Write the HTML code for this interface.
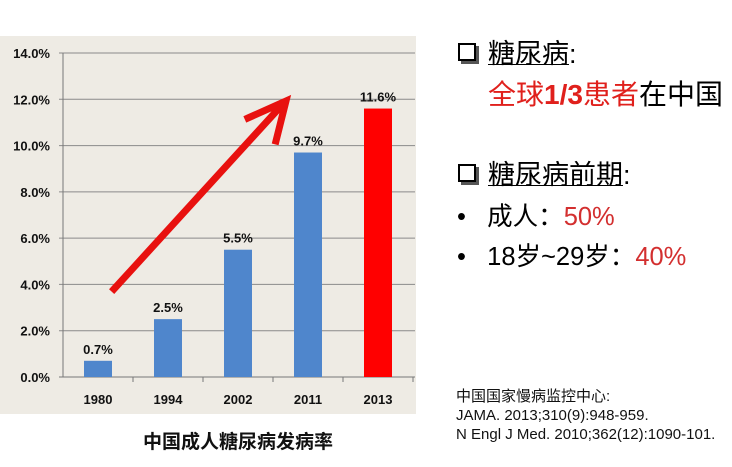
<!DOCTYPE html>
<html><head><meta charset="utf-8"><style>
body{margin:0;width:732px;height:467px;background:#fff;overflow:hidden;position:relative;font-family:"Liberation Sans","Noto Sans CJK SC",sans-serif}
.t{position:absolute;white-space:nowrap}
.box{display:inline-block;width:14px;height:14px;border:2.5px solid #000;box-shadow:3px 3px 0 #555;margin-right:12px;vertical-align:2px}
u{text-decoration:underline;text-decoration-thickness:1px}
</style></head><body>
<svg width="420" height="467" style="position:absolute;left:0;top:0" font-family="Liberation Sans, Noto Sans CJK SC, sans-serif">
<rect x="0" y="36" width="416" height="378" fill="#eeebe4"/>
<g id="g"></g>
<text x="238" y="448" text-anchor="middle" font-size="19" font-weight="bold" fill="#111">中国成人糖尿病发病率</text>
</svg>
<div class="t" style="left:458px;top:32px;font-size:27px"><span class="box"></span><u>糖尿病</u>:</div>
<div class="t" style="left:488px;top:73px;font-size:28px"><span style="color:#e0201c">全球<b>1/3</b>患者</span>在中国</div>
<div class="t" style="left:458px;top:153px;font-size:27px"><span class="box"></span><u>糖尿病前期</u>:</div>
<div class="t" style="left:457px;top:196px;font-size:25.5px">•&nbsp;&nbsp;&nbsp;成人：<span style="color:#d32f2f">50%</span></div>
<div class="t" style="left:457px;top:236px;font-size:25.5px">•&nbsp;&nbsp;&nbsp;18岁~29岁：<span style="color:#d32f2f">40%</span></div>
<div class="t" style="left:456px;top:387px;font-size:15px;line-height:19px;color:#111">中国国家慢病监控中心:<br>JAMA. 2013;310(9):948-959.<br>N Engl J Med. 2010;362(12):1090-101.</div>
<script>
const categories=["1980","1994","2002","2011","2013"];
const values=[0.7,2.5,5.5,9.7,11.6];
const labels=["0.7%","2.5%","5.5%","9.7%","11.6%"];
const ticks=[0,2,4,6,8,10,12,14];
const tickLabels=["0.0%","2.0%","4.0%","6.0%","8.0%","10.0%","12.0%","14.0%"];
const NS="http://www.w3.org/2000/svg",g=document.getElementById('g');
const x0=63,x1=415,y0=377,y14=53,bw=70;
const y=v=>y0-(v/14)*(y0-y14);
const xc=i=>x0+bw*(i+0.5);
function mk(t,a){const e=document.createElementNS(NS,t);for(const k in a)e.setAttribute(k,a[k]);g.appendChild(e);return e;}
ticks.forEach((v,i)=>{
 const l=mk('line',{x1:x0-4,x2:x1,y1:y(v),y2:y(v),stroke:i==0?'#777':'#8a8a8a','stroke-width':1});
 
 
 const t=mk('text',{x:50,y:y(v)+5,'text-anchor':'end','font-size':13,'font-weight':'bold',fill:'#111'});t.textContent=tickLabels[i];
 
 
});
const ax=mk('line',{x1:x0,x2:x0,y1:y14,y2:y0,stroke:'#777'});


categories.forEach((c,i)=>{
 const tk=mk('line',{x1:x0+bw*(i+1),x2:x0+bw*(i+1),y1:y0,y2:y0+5,stroke:'#777'});
 
 
 const b=mk('rect',{x:xc(i)-14,y:y(values[i]),width:28,height:y0-y(values[i]),fill:i==4?'#ff0000':'#4f86cc'});
 
 
 const v=mk('text',{x:xc(i),y:y(values[i])-7,'text-anchor':'middle','font-size':13,'font-weight':'bold',fill:'#111'});v.textContent=labels[i];
 
 
 const t=mk('text',{x:xc(i),y:404,'text-anchor':'middle','font-size':13,'font-weight':'bold',fill:'#111'});t.textContent=c;
 
 
});
const ar=mk('path',{d:'M114 289 L282 105 M248 118 L286 101 L276 141',stroke:'#e8110f','stroke-width':7,fill:'none','stroke-linecap':'square','stroke-linejoin':'miter'});


</script>
</body></html>
